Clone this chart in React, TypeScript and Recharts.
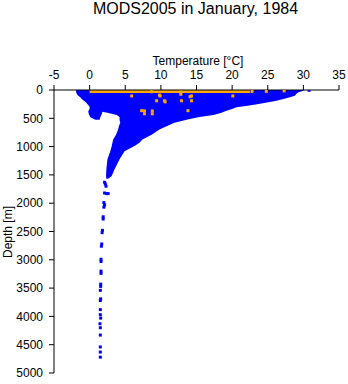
import { ComposedChart, Area, Scatter, XAxis, YAxis } from 'recharts';

const TEMP_TICKS = [-5, 0, 5, 10, 15, 20, 25, 30, 35];
const DEPTH_TICKS = [0, 500, 1000, 1500, 2000, 2500, 3000, 3500, 4000, 4500, 5000];

// dense part of the cloud: depth [m], coldest and warmest temperature [°C]
const bodyDepth = [0, 20, 40, 70, 100, 130, 160, 190, 220, 250, 280, 305, 335, 365, 400, 440, 475, 525, 580, 640, 700, 790, 875, 930, 990, 1080, 1225, 1400, 1520, 1570];
const bodyCold = [-1.9, -1.9, -1.9, -1.8, -1.6, -1.3, -1.1, -0.8, -0.5, -0.3, -0.1, 0.0, 0.0, 1.0, 2.5, 3.8, 4.2, 4.2, 4.3, 4.1, 4.0, 3.7, 3.3, 3.2, 3.1, 2.9, 2.5, 2.35, 2.3, 2.35];
const bodyWarm = [30.2, 29.8, 29.3, 29.0, 28.8, 28.1, 27.2, 26.2, 24.9, 23.5, 22.2, 20.6, 20.0, 19.2, 18.5, 17.4, 15.4, 13.6, 11.9, 10.8, 9.8, 8.7, 7.4, 7.0, 6.3, 4.9, 4.2, 3.5, 3.1, 2.6];

// cold lobe left of the main body
const lobeDepth = [330, 380, 430, 480, 525];
const lobeCold = [0.0, -0.2, -0.1, 0.1, 0.8];
const lobeWarm = [2.0, 1.8, 1.7, 1.5, 1.4];

// surface band of the orange profiles
const bandDepth = [0, 55];
const bandCold = [0, 0];
const bandWarm = [22.5, 22.5];

// sparse deep blue readings
const deepTemp = [30.8, 2.1, 2.2, 2.3, 2.1, 2.4, 2.6, 2.0, 2.1, 2.0, 1.9, 1.9, 1.8, 1.75, 1.7, 1.65, 1.6, 1.6, 1.6, 1.6, 1.55, 1.55, 1.5, 1.55, 1.5, 1.5, 1.5, 1.55, 1.45, 1.5, 1.5, 1.5, 1.5, 1.5];
const deepDepth = [5, 1630, 1660, 1700, 1820, 1830, 1830, 1990, 2030, 2070, 2240, 2280, 2480, 2520, 2720, 2760, 2990, 3030, 3200, 3240, 3430, 3470, 3540, 3690, 3720, 3880, 3970, 4030, 4130, 4200, 4330, 4540, 4630, 4720];

// orange readings
const orangeTemp = [8.7, 12.8, 12.8, 5.9, 9.8, 9.9, 14.1, 14.3, 20.1, 9.4, 10.5, 10.6, 12.9, 14.3, 7.3, 7.7, 7.7, 8.8, 8.8, 13.8, 22.8, 24.8, 27.3];
const orangeDepth = [30, 40, 75, 105, 90, 105, 118, 105, 105, 190, 190, 210, 190, 190, 365, 370, 420, 370, 420, 365, 25, 25, 15];

const toRange = (depth: number[], lo: number[], hi: number[]) =>
  depth.map((d, i) => ({ depth: d, range: [lo[i], hi[i]] }));
const toPoints = (t: number[], depth: number[]) => t.map((v, i) => ({ t: v, depth: depth[i] }));

const bodyData = toRange(bodyDepth, bodyCold, bodyWarm);
const lobeData = toRange(lobeDepth, lobeCold, lobeWarm);
const bandData = toRange(bandDepth, bandCold, bandWarm);
const deepData = toPoints(deepTemp, deepDepth);
const orangeData = toPoints(orangeTemp, orangeDepth);

const FONT = '"Liberation Sans", Arial, Helvetica, sans-serif';
const BLUE = '#0000ff';
const ORANGE = '#ffa500';

const square = (color: string) => (props: any) => (
  <rect x={props.cx - 1.5} y={props.cy - 1.5} width={3} height={3} fill={color} />
);

export default function App() {
  const tick = { fill: '#000', fontSize: 12, fontFamily: FONT };
  return (
    <div style={{ position: 'absolute', left: 0, top: 0, width: 348, height: 384, background: '#fff' }}>
      <ComposedChart
        width={348}
        height={384}
        layout="vertical"
        margin={{ top: 0, right: 9, bottom: 11, left: 0 }}
      >
        <Area data={bodyData} dataKey="range" type="linear" stroke="none" fill={BLUE} fillOpacity={1} isAnimationActive={false} dot={false} activeDot={false} />
        <Area data={lobeData} dataKey="range" type="linear" stroke="none" fill={BLUE} fillOpacity={1} isAnimationActive={false} dot={false} activeDot={false} />
        <Area data={bandData} dataKey="range" type="linear" stroke="none" fill={ORANGE} fillOpacity={1} isAnimationActive={false} dot={false} activeDot={false} />
        <Scatter data={deepData} fill={BLUE} shape={square(BLUE)} isAnimationActive={false} />
        <Scatter data={orangeData} fill={ORANGE} shape={square(ORANGE)} isAnimationActive={false} />
        <XAxis
          type="number"
          dataKey="t"
          orientation="top"
          height={90}
          domain={[-5, 35]}
          ticks={TEMP_TICKS}
          allowDataOverflow
          tick={tick}
          tickSize={5}
          tickMargin={6}
          stroke="#000"
        />
        <YAxis
          type="number"
          dataKey="depth"
          width={54}
          domain={[0, 5000]}
          ticks={DEPTH_TICKS}
          allowDataOverflow
          tick={tick}
          tickSize={5}
          tickMargin={6}
          stroke="#000"
        />
      </ComposedChart>
      <svg width={348} height={384} style={{ position: 'absolute', left: 0, top: 0, pointerEvents: 'none' }}>
        <text x={195.5} y={14} textAnchor="middle" fontSize={16} fontFamily={FONT} fill="#000">
          MODS2005 in January, 1984
        </text>
        <text x={198} y={64.5} textAnchor="middle" fontSize={12} fontFamily={FONT} fill="#000">
          Temperature [°C]
        </text>
        <text x={12} y={232} textAnchor="middle" fontSize={12} fontFamily={FONT} fill="#000" transform="rotate(-90 12 232)">
          Depth [m]
        </text>
      </svg>
    </div>
  );
}
